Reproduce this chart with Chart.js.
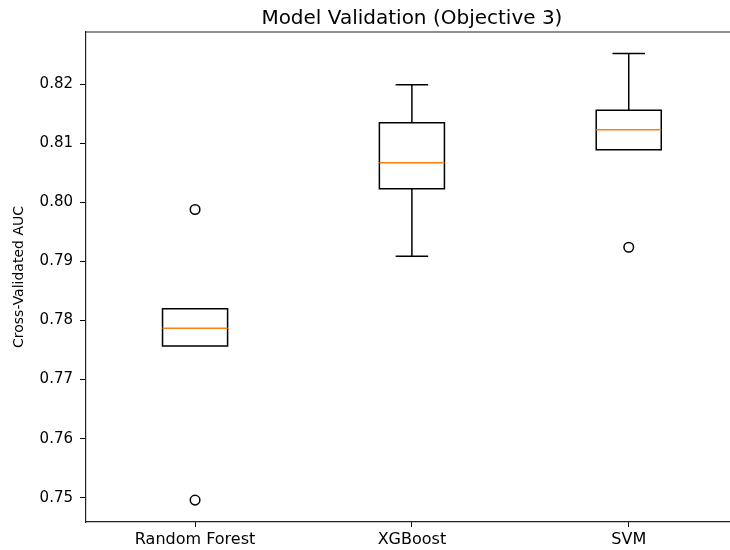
<!DOCTYPE html>
<html>
<head>
<meta charset="utf-8">
<script src="https://cdn.jsdelivr.net/npm/chart.js@4.4.1/dist/chart.umd.min.js"></script>
<style>
  html, body { margin: 0; padding: 0; background: #fff; }
</style>
</head>
<body>
<canvas id="myChart" width="730" height="550"></canvas>
<script>
// === Box plot: Model Validation (Objective 3) ===

const models = ['Random Forest', 'XGBoost', 'SVM'];
const whiskerLow = [0.7757, 0.7909, 0.8089];
const q1 = [0.7757, 0.8023, 0.8089];
const median = [0.7787, 0.8067, 0.8123];
const q3 = [0.7820, 0.8135, 0.8156];
const whiskerHigh = [0.7820, 0.8199, 0.8252];
const outliers = [[0.7988, 0.7496], [], [0.7924]];
const yTicks = [0.75, 0.76, 0.77, 0.78, 0.79, 0.80, 0.81, 0.82];

const chartTitle = 'Model Validation (Objective 3)';
const fontFamily = "'DejaVu Sans', sans-serif";

// outlier points as scatter data (x = position 1..3)
const outlierPoints = [];
outliers.forEach((vals, i) => {
  vals.forEach(v => outlierPoints.push({ x: i + 1, y: v }));
});

// boxes, whiskers, caps and medians drawn through the chart scales
const boxPlugin = {
  id: 'boxPlugin',
  beforeDatasetsDraw(chart) {
    const ctx = chart.ctx;
    const x = chart.scales.x;
    const y = chart.scales.y;
    const boxHalf = 0.15;
    const capHalf = 0.075;

    ctx.save();
    ctx.lineWidth = 1.5;
    models.forEach((m, i) => {
      const pos = i + 1;
      const xl = x.getPixelForValue(pos - boxHalf);
      const xr = x.getPixelForValue(pos + boxHalf);
      const xc = x.getPixelForValue(pos);
      const cl = x.getPixelForValue(pos - capHalf);
      const cr = x.getPixelForValue(pos + capHalf);
      const yq1 = y.getPixelForValue(q1[i]);
      const yq3 = y.getPixelForValue(q3[i]);
      const ylo = y.getPixelForValue(whiskerLow[i]);
      const yhi = y.getPixelForValue(whiskerHigh[i]);
      const ymed = y.getPixelForValue(median[i]);

      ctx.strokeStyle = '#000';
      ctx.beginPath();
      // box
      ctx.rect(xl, yq3, xr - xl, yq1 - yq3);
      // whiskers
      ctx.moveTo(xc, yq1); ctx.lineTo(xc, ylo);
      ctx.moveTo(xc, yq3); ctx.lineTo(xc, yhi);
      // caps
      ctx.moveTo(cl, ylo); ctx.lineTo(cr, ylo);
      ctx.moveTo(cl, yhi); ctx.lineTo(cr, yhi);
      ctx.stroke();

      // median
      ctx.strokeStyle = '#ff7f0e';
      ctx.beginPath();
      ctx.moveTo(xl, ymed); ctx.lineTo(xr, ymed);
      ctx.stroke();
    });

    // top spine
    const a = chart.chartArea;
    ctx.strokeStyle = '#222';
    ctx.lineWidth = 1.2;
    ctx.beginPath();
    ctx.moveTo(a.left, a.top);
    ctx.lineTo(a.right, a.top);
    ctx.stroke();

    // title centred over the plot (middle position of the x scale)
    ctx.fillStyle = '#000';
    ctx.font = '20px ' + fontFamily;
    ctx.textAlign = 'center';
    ctx.textBaseline = 'alphabetic';
    ctx.fillText(chartTitle, x.getPixelForValue(2), 23.5);
    ctx.restore();
  }
};

const ctx = document.getElementById('myChart').getContext('2d');
new Chart(ctx, {
  type: 'scatter',
  data: {
    datasets: [{
      label: 'Outliers',
      data: outlierPoints,
      pointStyle: 'circle',
      pointRadius: 4.8,
      pointHoverRadius: 4.8,
      borderWidth: 1.5,
      borderColor: '#000',
      backgroundColor: 'rgba(0,0,0,0)'
    }]
  },
  options: {
    responsive: false,
    animation: false,
    layout: { autoPadding: false, padding: { top: 32, left: 0, right: 0, bottom: 0 } },
    plugins: {
      legend: { display: false },
      tooltip: { enabled: false },
      title: { display: false }
    },
    scales: {
      x: {
        type: 'linear',
        min: 0.497,
        max: 3.467,
        afterFit: scale => { scale.height = 28; },
        afterBuildTicks: scale => {
          scale.ticks = models.map((m, i) => ({ value: i + 1 }));
        },
        ticks: {
          color: '#000',
          font: { family: fontFamily, size: 16 },
          padding: 3,
          maxRotation: 0,
          autoSkip: false,
          callback: value => models[value - 1]
        },
        grid: {
          drawOnChartArea: false,
          tickLength: 5,
          tickColor: '#000',
          tickWidth: 1
        },
        border: { display: true, color: '#222', width: 1.2 }
      },
      y: {
        min: 0.74589,
        max: 0.82885,
        afterFit: scale => { scale.width = 86; },
        afterBuildTicks: scale => {
          scale.ticks = yTicks.map(v => ({ value: v }));
        },
        ticks: {
          color: '#000',
          font: { family: fontFamily, size: 15 },
          padding: 7,
          callback: value => value.toFixed(2)
        },
        grid: {
          drawOnChartArea: false,
          tickLength: 6,
          tickColor: '#000',
          tickWidth: 1
        },
        border: { display: true, color: '#222', width: 1.2 },
        title: {
          display: true,
          text: 'Cross-Validated AUC',
          color: '#000',
          font: { family: fontFamily, size: 14 },
          padding: { top: 11, bottom: 0 }
        }
      }
    }
  },
  plugins: [boxPlugin]
});
</script>
</body>
</html>
